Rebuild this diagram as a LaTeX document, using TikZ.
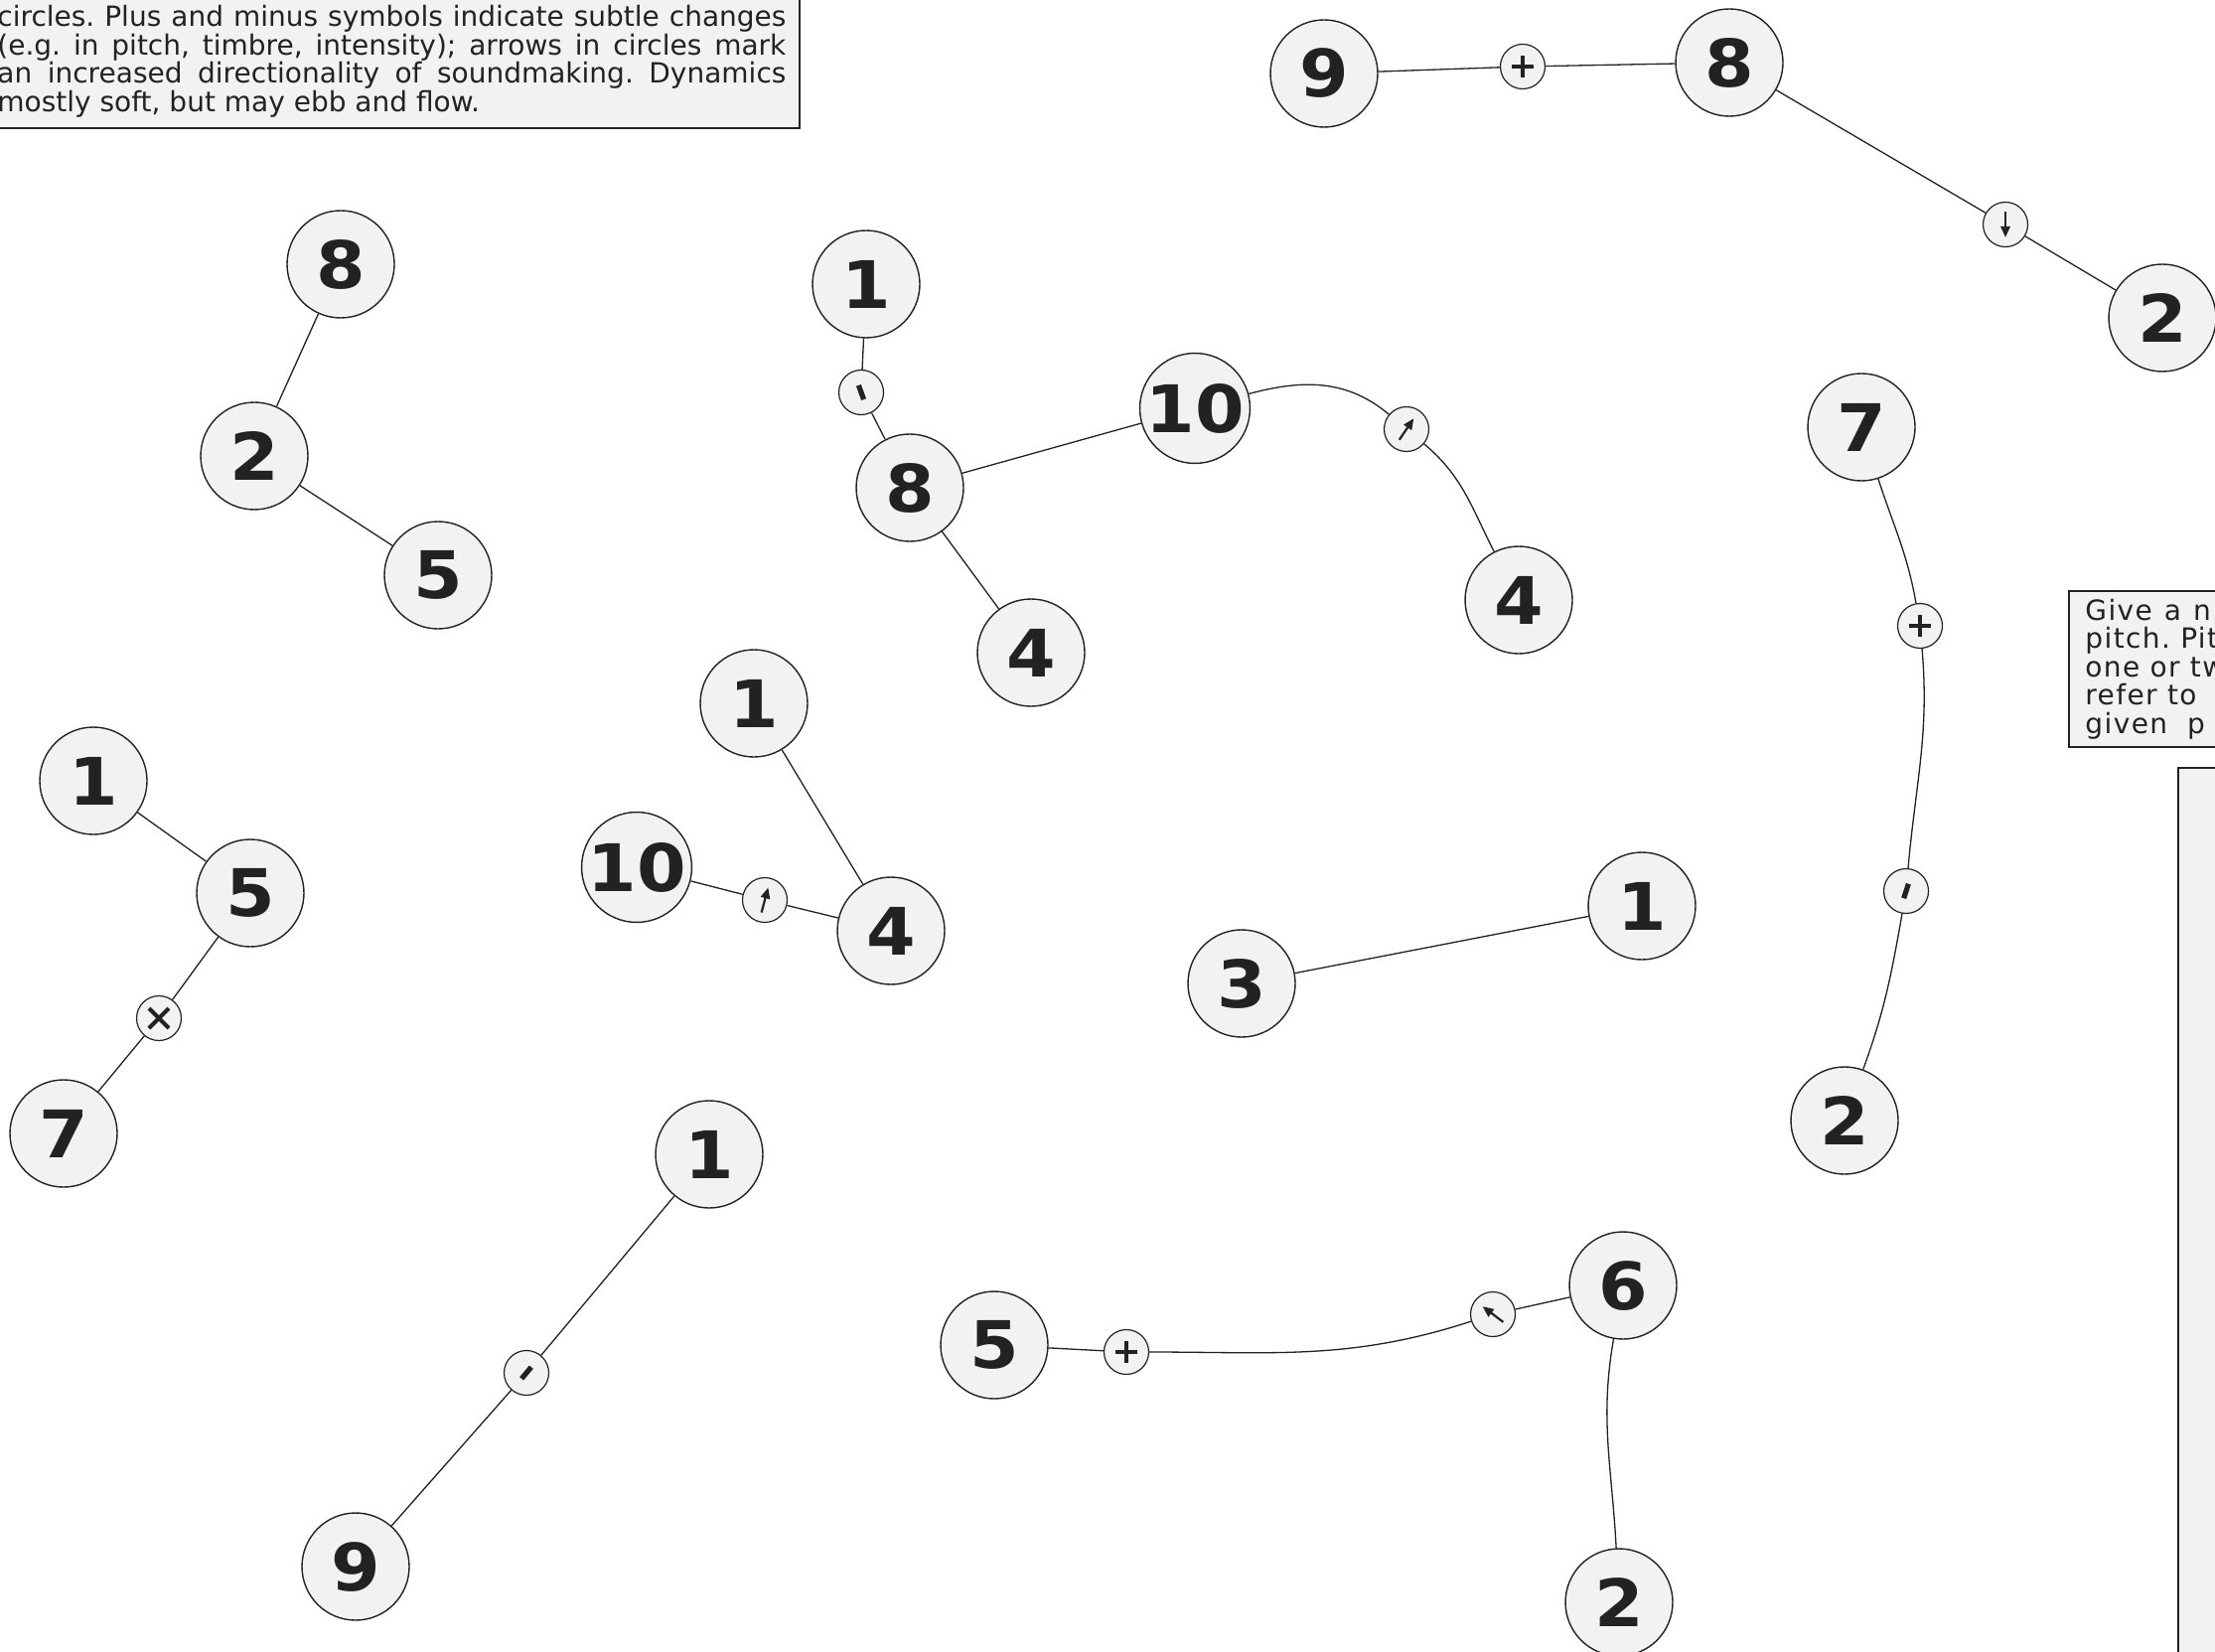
\documentclass[tikz,border=0pt]{standalone}
\usepackage{fontspec}
\setmainfont{DejaVu Sans}
\newfontfamily\numfont{DejaVu Sans}[FakeStretch=1.08]
\newfontfamily\widefont{DejaVu Sans}[LetterSpace=5]
\usetikzlibrary{arrows.meta}
\definecolor{paper}{HTML}{F1F2F4}
\definecolor{ink}{HTML}{222222}

% signs drawn inside the small circles
\newcommand\plussign[1]{\draw[symbol, shift={(#1.center)}] (-5.5pt,0pt) -- (5.5pt,0pt) (0pt,-5.5pt) -- (0pt,5.5pt);}
\newcommand\timessign[1]{\draw[symbol, shift={(#1.center)}] (-5pt,-5pt) -- (5pt,5pt) (-5pt,5pt) -- (5pt,-5pt);}
\newcommand\barsign[2]{\draw[symbol, line width=2.6pt, shift={(#1.center)}, rotate=#2] (-3.8pt,0pt) -- (3.8pt,0pt);}
\newcommand\arrowsign[2]{\draw[draw=ink, line width=1.1pt, -{Triangle[length=5.5pt,width=4.6pt]}, shift={(#1.center)}, rotate=#2] (-6.5pt,0pt) -- (6.5pt,0pt);}

\begin{document}
\frenchspacing
\begin{tikzpicture}[
  x=0.5pt, y=-0.5pt,
  num/.style={
    circle, draw=ink, fill=paper, line width=0.7pt,
    minimum size=54pt, inner sep=0pt, text=ink,
    font=\numfont\bfseries\fontsize{33}{33}\selectfont
  },
  sign/.style={
    circle, draw=ink, fill=paper, line width=0.6pt,
    minimum size=22.5pt, inner sep=0pt
  },
  link/.style={draw=ink, line width=0.65pt},
  symbol/.style={draw=ink, line width=2pt},
  note/.style={draw=ink, fill=paper, line width=1.2pt},
  txt/.style={
    anchor=base west, inner sep=0pt, text=ink,
    font=\fontsize{14}{17}\selectfont
  },
  widetxt/.style={txt, font=\widefont\fontsize{14}{17}\selectfont}
]
\useasboundingbox (0,0) rectangle (2230,1663);
\clip (0,0) rectangle (2230,1663);
\fill[white] (0,0) rectangle (2230,1663);

% Notes
\draw[note] (-10,-10) rectangle (805,129);
\node[txt] (introA) at (-3,27) {\makebox[397pt][s]{circles. Plus and minus symbols indicate subtle changes}};
\node[txt] (introB) at (-3,55.5) {\makebox[397pt][s]{(e.g. in pitch, timbre, intensity); arrows in circles mark}};
\node[txt] (introC) at (-3,84) {\makebox[397pt][s]{an increased directionality of soundmaking. Dynamics}};
\node[txt] (introD) at (-3,112.5) {mostly soft, but may ebb and flow.};

\draw[note] (2083,595) rectangle (2245,752);
\node[widetxt] (sideA) at (2099,624) {Give\hspace{6pt}a\hspace{6pt}n};
\node[widetxt] (sideB) at (2099,652.5) {pitch. Pit};
\node[widetxt] (sideC) at (2099,681) {one or tw};
\node[widetxt] (sideD) at (2099,709.5) {refer to};
\node[widetxt] (sideE) at (2099,738) {given\hspace{10pt}p};

\draw[note] (2193,773) rectangle (2245,1675);

% Group 9 - 8 - 2
\node[num] (aNine) at (1333,74) {9};
\node[sign] (aPlus) at (1533,67) {};
\node[num] (aEight) at (1741,63) {8};
\node[sign] (aDown) at (2019,226) {};
\node[num] (aTwo) at (2177,320) {2};
\draw[link] (aNine) -- (aPlus) -- (aEight) -- (aDown) -- (aTwo);
\plussign{aPlus}
\arrowsign{aDown}{-90}

% Group 8 - 2 - 5
\node[num] (bEight) at (343,266) {8};
\node[num] (bTwo) at (256,459) {2};
\node[num] (bFive) at (441,579) {5};
\draw[link] (bEight) -- (bTwo) -- (bFive);

% Group 1 - 8 - 10 - 4
\node[num] (cOne) at (872,286) {1};
\node[sign] (cBar) at (867,395) {};
\node[num] (cEight) at (916,491) {8};
\node[num] (cTen) at (1203,411) {10};
\node[sign] (cArrow) at (1416,432) {};
\node[num] (cFourR) at (1529,604) {4};
\node[num] (cFourL) at (1038,657) {4};
\draw[link] (cOne) -- (cBar) -- (cEight) -- (cTen);
\draw[link] (cEight) -- (cFourL);
\draw[link] (cTen) to[out=15,in=140] (cArrow) to[out=-40,in=117] (cFourR);
\barsign{cBar}{110}
\arrowsign{cArrow}{56}

% Group 7 - 2
\node[num] (dSeven) at (1874,430) {7};
\node[sign] (dPlus) at (1933,630) {};
\node[sign] (dBar) at (1919,897) {};
\node[num] (dTwo) at (1857,1128) {2};
\draw[link] (dSeven) to[out=-72,in=100] (dPlus) to[out=-85,in=85] (dBar) to[out=-100,in=70] (dTwo);
\plussign{dPlus}
\barsign{dBar}{72}

% Group 1 - 5 - 7
\node[num] (eOne) at (94,786) {1};
\node[num] (eFive) at (252,899) {5};
\node[sign] (eTimes) at (160,1025) {};
\node[num] (eSeven) at (64,1141) {7};
\draw[link] (eOne) -- (eFive) -- (eTimes) -- (eSeven);
\timessign{eTimes}

% Group 1 - 4 - 10
\node[num] (fOne) at (759,708) {1};
\node[num] (fTen) at (641,873) {10};
\node[sign] (fArrow) at (770,906) {};
\node[num] (fFour) at (897,937) {4};
\draw[link] (fOne) -- (fFour) -- (fArrow) -- (fTen);
\arrowsign{fArrow}{75}

% Group 3 - 1
\node[num] (gThree) at (1250,990) {3};
\node[num] (gOne) at (1653,912) {1};
\draw[link] (gThree) -- (gOne);

% Group 1 - 9
\node[num] (hOne) at (714,1162) {1};
\node[sign] (hBar) at (530,1382) {};
\node[num] (hNine) at (358,1577) {9};
\draw[link] (hOne) -- (hBar) -- (hNine);
\barsign{hBar}{50}

% Group 5 - 6 - 2
\node[num] (iFive) at (1001,1354) {5};
\node[sign] (iPlus) at (1134,1361) {};
\node[sign] (iArrow) at (1503,1323) {};
\node[num] (iSix) at (1634,1294) {6};
\node[num] (iTwo) at (1630,1613) {2};
\draw[link] (iFive) -- (iPlus);
\draw[link] (iPlus) to[out=0,in=198] (iArrow);
\draw[link] (iArrow) -- (iSix);
\draw[link] (iSix) to[out=-100,in=93] (iTwo);
\plussign{iPlus}
\arrowsign{iArrow}{143}

\end{tikzpicture}
\end{document}
